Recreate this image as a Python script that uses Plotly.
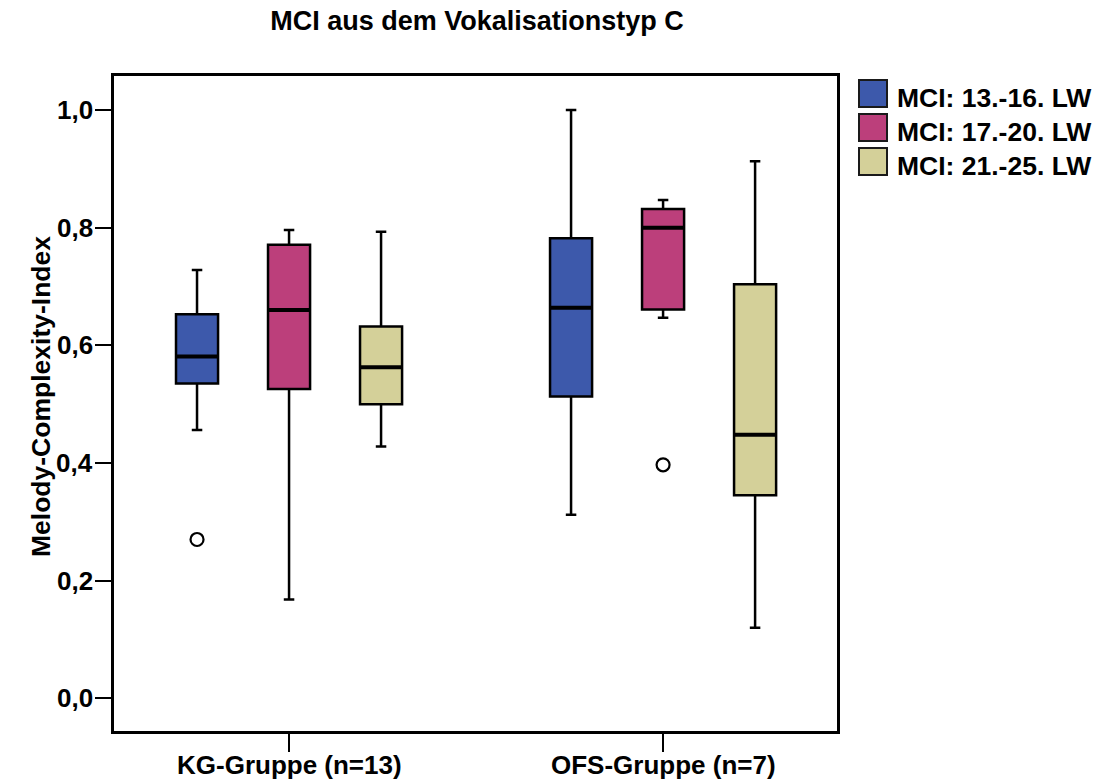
import plotly.graph_objects as go

# ---------------- data ----------------
categories = ["KG-Gruppe (n=13)", "OFS-Gruppe (n=7)"]
series = ["MCI: 13.-16. LW", "MCI: 17.-20. LW", "MCI: 21.-25. LW"]

lower_13_16 = [0.456, 0.312]
q1_13_16 = [0.535, 0.513]
median_13_16 = [0.581, 0.664]
q3_13_16 = [0.653, 0.782]
upper_13_16 = [0.728, 1.000]

lower_17_20 = [0.168, 0.647]
q1_17_20 = [0.526, 0.661]
median_17_20 = [0.660, 0.800]
q3_17_20 = [0.771, 0.832]
upper_17_20 = [0.796, 0.847]

lower_21_25 = [0.428, 0.120]
q1_21_25 = [0.500, 0.345]
median_21_25 = [0.563, 0.448]
q3_21_25 = [0.632, 0.704]
upper_21_25 = [0.793, 0.913]

# outliers: (category, value)
outliers_13_16 = [("KG-Gruppe (n=13)", 0.270)]
outliers_17_20 = [("OFS-Gruppe (n=7)", 0.397)]
outliers_21_25 = []

y_ticks = [0.0, 0.2, 0.4, 0.6, 0.8, 1.0]
y_tick_labels = ["0,0", "0,2", "0,4", "0,6", "0,8", "1,0"]

# ---------------- style ----------------
colors = ["#3D59AB", "#BC3F7B", "#D4D099"]
FONT = "Liberation Sans, Arial, sans-serif"
W, H = 1096, 780
L, R, T, B = 114, 837, 76, 731


def px_x(px):
    return (px - L) / (R - L)


def px_y(py):
    return (B - py) / (B - T)


stats = [
    (lower_13_16, q1_13_16, median_13_16, q3_13_16, upper_13_16, outliers_13_16),
    (lower_17_20, q1_17_20, median_17_20, q3_17_20, upper_17_20, outliers_17_20),
    (lower_21_25, q1_21_25, median_21_25, q3_21_25, upper_21_25, outliers_21_25),
]

fig = go.Figure()

# boxes
for j, (lo, q1, med, q3, up, _) in enumerate(stats):
    fig.add_trace(go.Box(
        x=categories, q1=q1, median=med, q3=q3, lowerfence=lo, upperfence=up,
        name=series[j], offsetgroup=str(j), fillcolor=colors[j],
        line=dict(color="black", width=2.5), whiskerwidth=0.25,
        boxpoints=False, showlegend=False, hoverinfo="skip",
    ))

# thick median lines (zero-height boxes at the median)
for j, (lo, q1, med, q3, up, _) in enumerate(stats):
    fig.add_trace(go.Box(
        x=categories, q1=med, median=med, q3=med, lowerfence=med, upperfence=med,
        name=series[j], offsetgroup=str(j), fillcolor="rgba(0,0,0,0)",
        line=dict(color="black", width=4), whiskerwidth=0,
        boxpoints=False, showlegend=False, hoverinfo="skip",
    ))

# outliers
for j, (_, _, _, _, _, outs) in enumerate(stats):
    xs = [o[0] for o in outs] or [categories[0]]
    ys = [o[1] for o in outs] or [None]
    fig.add_trace(go.Scatter(
        x=xs, y=ys, mode="markers", offsetgroup=str(j), showlegend=False,
        marker=dict(symbol="circle-open", size=13, color="black", line=dict(width=2.2)),
        hoverinfo="skip",
    ))

shapes = []
annotations = []

# manual legend (large swatches)
for j, name in enumerate(series):
    top = 80 + j * 34
    shapes.append(dict(
        type="rect", xref="paper", yref="paper",
        x0=px_x(859), x1=px_x(887), y0=px_y(top + 27), y1=px_y(top),
        fillcolor=colors[j], line=dict(color="#1a1a1a", width=2),
    ))
    annotations.append(dict(
        xref="paper", yref="paper", x=px_x(895), y=px_y(top + 18),
        xanchor="left", yanchor="middle", text=name, showarrow=False,
        font=dict(family=FONT, size=26.5, color="black", weight="bold"),
    ))

# x tick labels
for c in categories:
    annotations.append(dict(
        xref="x", yref="paper", x=c, y=px_y(765),
        xanchor="center", yanchor="middle", text=c, showarrow=False,
        font=dict(family=FONT, size=26, color="black", weight="bold"),
    ))

# y tick labels
for v, lab in zip(y_ticks, y_tick_labels):
    annotations.append(dict(
        xref="paper", yref="y", x=px_x(95), y=v,
        xanchor="right", yanchor="middle", text=lab, showarrow=False,
        font=dict(family=FONT, size=26, color="black", weight="bold"),
    ))

# y-axis title
annotations.append(dict(
    xref="paper", yref="paper", x=px_x(41), y=px_y(397),
    xanchor="center", yanchor="middle", textangle=-90,
    text="Melody-Complexity-Index", showarrow=False,
    font=dict(family=FONT, size=26.5, color="black", weight="bold"),
))

fig.update_layout(
    template="none",
    width=W, height=H,
    margin=dict(l=L, r=W - R, t=T, b=H - B, pad=0),
    paper_bgcolor="white", plot_bgcolor="white",
    separators=", ",
    boxmode="group", boxgap=0.262, boxgroupgap=0.543,
    scattermode="group", scattergap=0.262,
    title=dict(
        text="MCI aus dem Vokalisationstyp C", x=477 / W, xanchor="center",
        xref="container", y=1 - 21 / H, yref="container", yanchor="middle",
        font=dict(family=FONT, size=27, color="black", weight="bold"),
    ),
    shapes=shapes,
    annotations=annotations,
    showlegend=False,
)

fig.update_xaxes(
    type="category", categoryorder="array", categoryarray=categories,
    range=[-0.468, 1.465], automargin=False, showticklabels=False,
    showline=True, linecolor="black", linewidth=2.5, mirror=True,
    ticks="outside", ticklen=18, tickwidth=2, tickcolor="black",
    showgrid=False, zeroline=False,
)
fig.update_yaxes(
    range=[-0.0556, 1.058], automargin=False, showticklabels=False,
    tickvals=y_ticks,
    showline=True, linecolor="black", linewidth=2.5, mirror=True,
    ticks="outside", ticklen=16, tickwidth=2, tickcolor="black",
    showgrid=False, zeroline=False,
)

fig.write_html("out.html")
